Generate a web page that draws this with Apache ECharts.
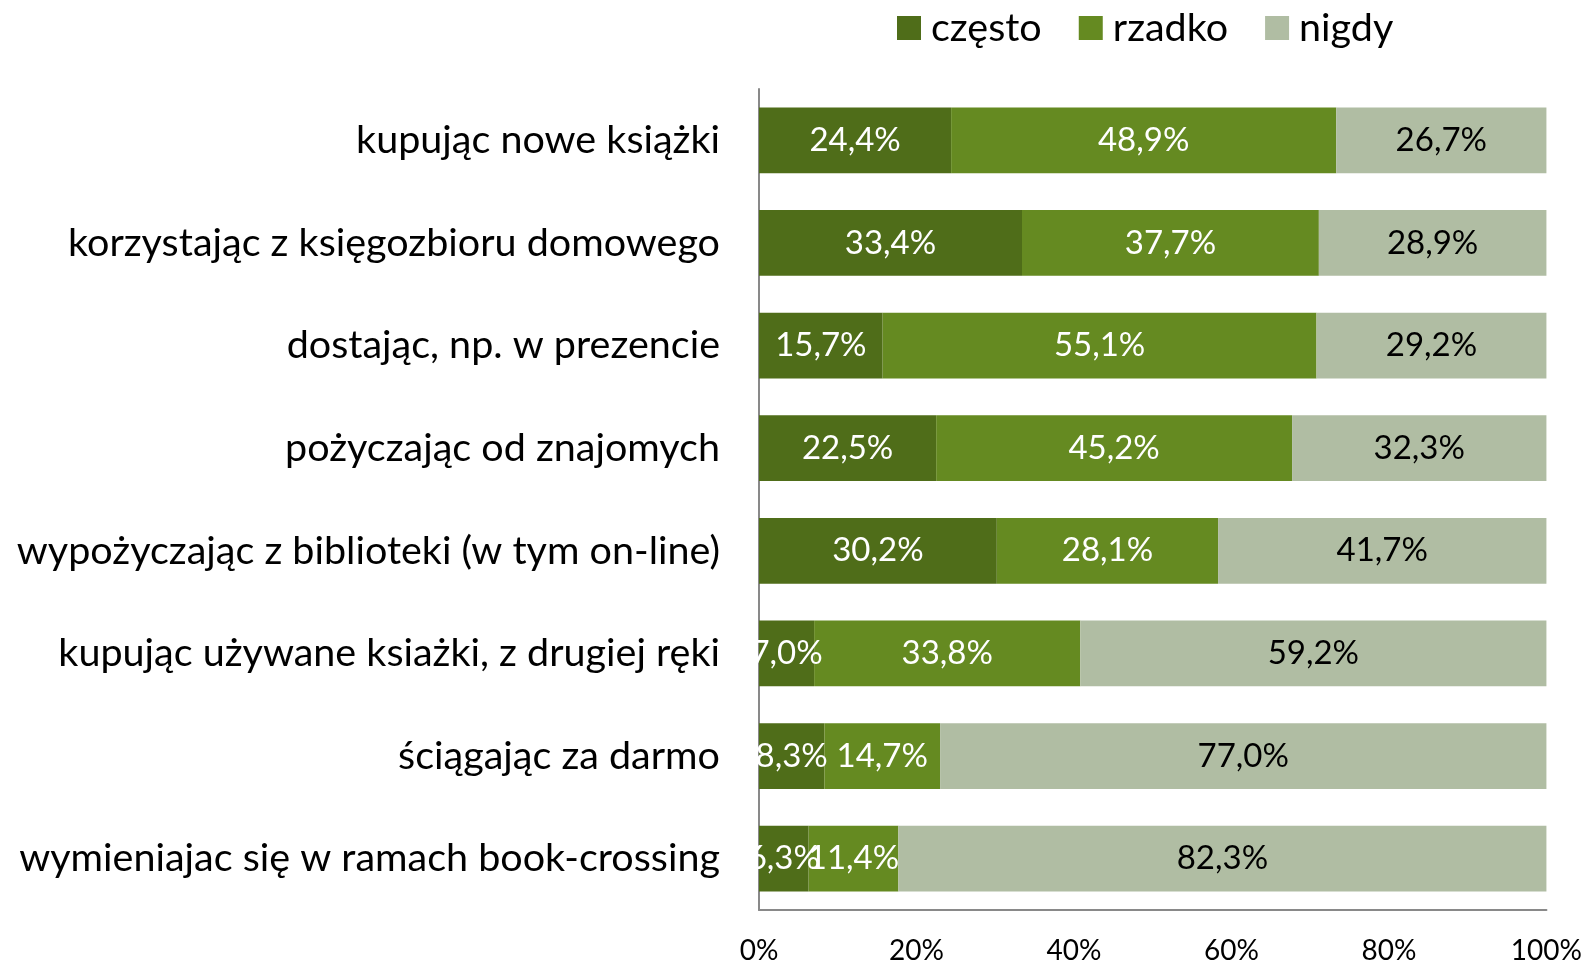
<!DOCTYPE html>
<html>
<head>
<meta charset="utf-8">
<script src="https://cdn.jsdelivr.net/npm/echarts@6/dist/echarts.min.js"></script>
<style>
  html, body { margin: 0; padding: 0; background: #fff; }
  #chart { width: 1585px; height: 965px; }
</style>
</head>
<body>
<div id="chart"></div>
<script>
var categories = [
  'kupując nowe książki',
  'korzystając z księgozbioru domowego',
  'dostając, np. w prezencie',
  'pożyczając od znajomych',
  'wypożyczając z biblioteki (w tym on-line)',
  'kupując używane ksiażki, z drugiej ręki',
  'ściągając za darmo',
  'wymieniajac się w ramach book-crossing'
]
var czesto = [24.4, 33.4, 15.7, 22.5, 30.2, 7.0, 8.3, 6.3]
var rzadko = [48.9, 37.7, 55.1, 45.2, 28.1, 33.8, 14.7, 11.4]
var nigdy = [26.7, 28.9, 29.2, 32.3, 41.7, 59.2, 77.0, 82.3]

var fontFamily = 'Lato, "Open Sans", sans-serif'

function pct (p) {
  return p.value.toFixed(1).replace('.', ',') + '%'
}

var myChart = echarts.init(document.getElementById('chart'))

function makeSeries (name, data, color, labelColor) {
  return {
    name: name,
    type: 'bar',
    stack: 'total',
    barCategoryGap: '36%',
    data: data,
    itemStyle: { color: color },
    label: {
      show: true,
      position: 'inside',
      formatter: pct,
      color: labelColor,
      fontSize: 33,
      fontFamily: fontFamily
    }
  }
}

myChart.setOption({
  backgroundColor: '#fff',
  animation: false,
  textStyle: { fontFamily: fontFamily },
  legend: {
    top: 3,
    left: 892,
    itemWidth: 24,
    itemHeight: 24,
    itemGap: 37,
    icon: 'rect',
    textStyle: { fontSize: 39.5, color: '#000', fontFamily: fontFamily, padding: [0, 0, 0, 5] },
    data: ['często', 'rzadko', 'nigdy']
  },
  grid: {
    left: 759,
    right: 38,
    top: 89,
    bottom: 53
  },
  xAxis: {
    type: 'value',
    min: 0,
    max: 100,
    interval: 20,
    splitLine: { show: false },
    axisLine: { show: true, lineStyle: { color: '#898989', width: 2 } },
    axisTick: { show: false },
    axisLabel: {
      formatter: '{value}%',
      fontSize: 28,
      color: '#000',
      margin: 27,
      fontFamily: fontFamily
    }
  },
  yAxis: {
    type: 'category',
    inverse: true,
    data: categories,
    axisLine: { show: true, lineStyle: { color: '#898989', width: 2 } },
    axisTick: { show: false },
    axisLabel: {
      fontSize: 39.5,
      color: '#000',
      margin: 39,
      fontFamily: fontFamily
    }
  },
  series: [
    makeSeries('często', czesto, '#4F6D19', '#fff'),
    makeSeries('rzadko', rzadko, '#658A21', '#fff'),
    makeSeries('nigdy', nigdy, '#B0BDA3', '#000')
  ]
})
</script>
</body>
</html>
